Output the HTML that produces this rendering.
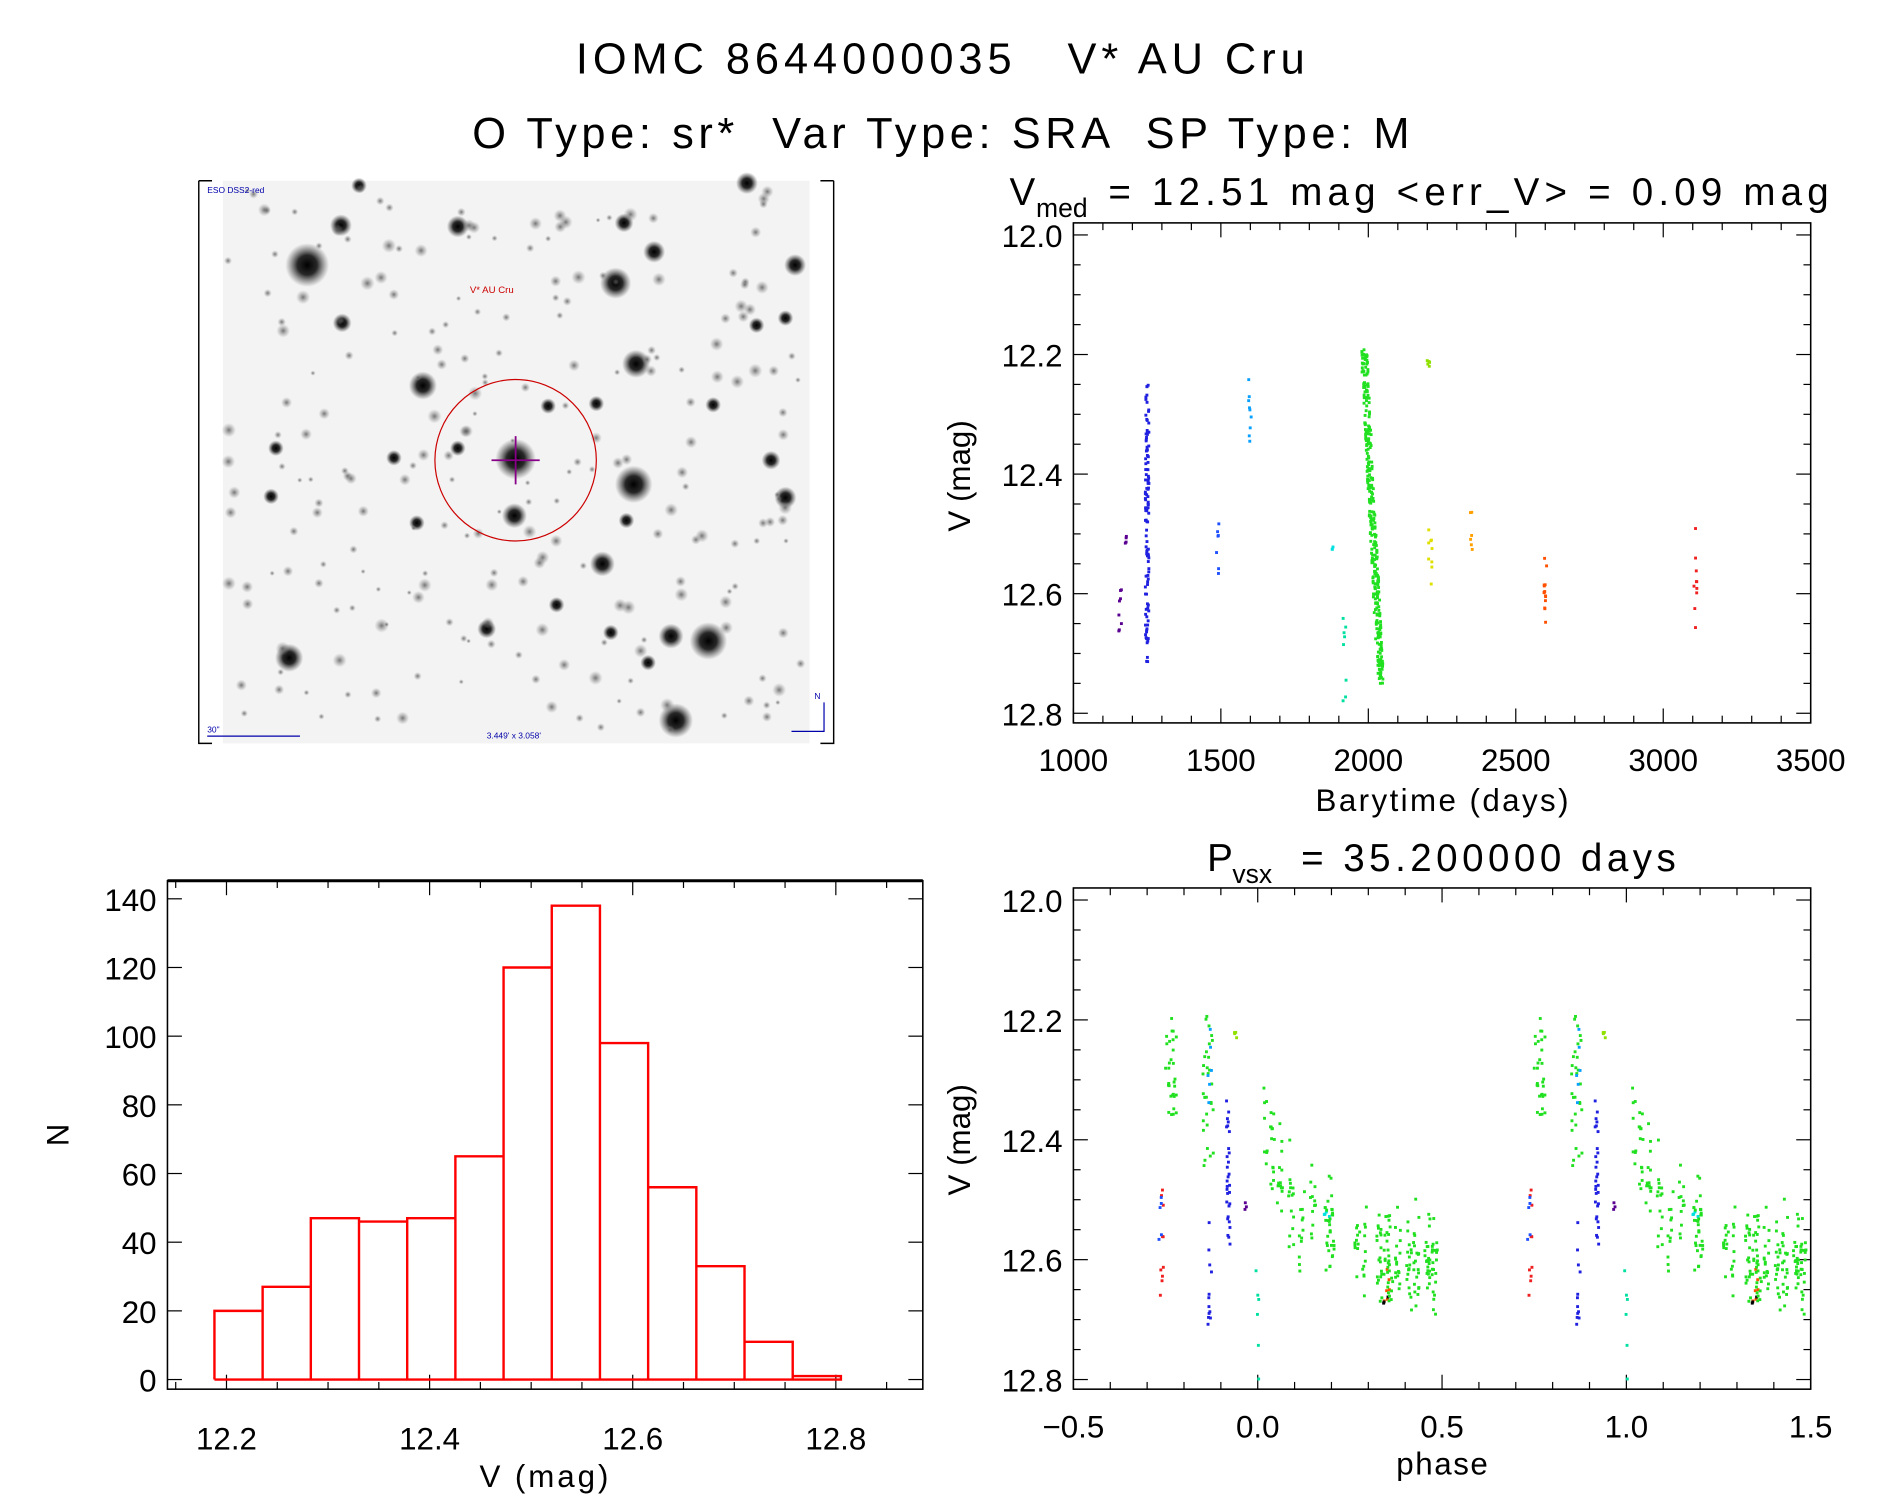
<!DOCTYPE html>
<html><head><meta charset="utf-8"><style>
html,body{margin:0;padding:0;background:#fff}
svg{display:block}
text{font-family:"Liberation Sans",sans-serif;fill:#000}
</style></head><body>
<svg id="s" width="1889" height="1494" viewBox="0 0 1568 1240" preserveAspectRatio="none" xmlns="http://www.w3.org/2000/svg">
<defs>
<radialGradient id="st"><stop offset="0" stop-color="#000" stop-opacity="1"/><stop offset="0.45" stop-color="#111" stop-opacity="0.9"/><stop offset="1" stop-color="#444" stop-opacity="0"/></radialGradient>
<radialGradient id="sf"><stop offset="0" stop-color="#555" stop-opacity="0.8"/><stop offset="1" stop-color="#888" stop-opacity="0"/></radialGradient>
</defs>
<text x="478" y="61" font-size="36" textLength="605" lengthAdjust="spacing" xml:space="preserve">IOMC 8644000035   V* AU Cru</text>
<text x="392" y="123" font-size="36" textLength="778" lengthAdjust="spacing" xml:space="preserve">O Type: sr*  Var Type: SRA  SP Type: M</text>
<rect x="185" y="150" width="487" height="467" fill="#f3f3f3"/>
<g id="stars"></g>
<path d="M165,150 H176 M165,150 V617 H176 M692,150 H681 M692,150 V617 H681" stroke="#000" stroke-width="1.2" fill="none"/>
<circle cx="428" cy="382" r="67" fill="none" stroke="#c00" stroke-width="1"/>
<path d="M408,382 H448 M428,362 V402" stroke="#808" stroke-width="1.5"/>
<text x="390" y="243" font-size="8" style="fill:#c00">V* AU Cru</text>
<text x="172" y="160" font-size="7" style="fill:#00a">ESO DSS2-red</text>
<text x="172" y="608" font-size="7" style="fill:#00a">30"</text>
<path d="M172,611 H249" stroke="#00a"/>
<text x="404" y="613" font-size="7" style="fill:#00a">3.449' x 3.058'</text>
<path d="M684,583 V607 H657" stroke="#00a" fill="none"/>
<text x="676" y="580" font-size="7" style="fill:#00a">N</text>
<g id="g"></g>
</svg>
<script>
var G=document.getElementById('g'),ST=document.getElementById('stars');
var NS='http://www.w3.org/2000/svg';
function el(t,a,p,txt){var e=document.createElementNS(NS,t);for(var k in a)e.setAttribute(k,a[k]);if(txt!=null)e.textContent=txt;(p||G).appendChild(e);return e;}
var seed=12345;function R(){seed=(seed*16807)%2147483647;return (seed-1)/2147483646;}
function N(){return (R()+R()+R()-1.5)/0.866;}
var big=[[255,220,14],[511,235,10],[528,302,9],[351,320,9],[428,381,13],[526,402,12],[240,546,9],[588,532,12],[561,598,11],[500,468,8],[283,187,7],[380,188,7],[518,185,6],[543,209,7],[660,220,7],[427,428,8],[557,528,8],[652,413,7],[284,268,6],[229,372,5],[640,382,6],[404,522,6],[346,434,5],[628,270,5],[538,550,5],[520,432,5],[298,154,5],[620,152,7],[225,412,5],[495,335,5],[380,372,5],[327,380,5],[462,502,5],[455,337,5],[652,264,5],[592,336,5],[507,525,5]];
big.forEach(function(s){el('circle',{cx:s[0],cy:s[1],r:s[2]*1.3,fill:'url(#st)'},ST);});
for(var i=0;i<230;i++){var x=188+R()*482,y=153+R()*462;el('circle',{cx:x,cy:y,r:2+R()*4,fill:'url(#sf)'},ST);}
function frame(x0,y0,x1,y1){el('rect',{x:x0,y:y0,width:x1-x0,height:y1-y0,fill:'none',stroke:'#000','stroke-width':1.3});}
var A={x0:891,x1:1503,y0:185,y1:600};
frame(A.x0,A.y0,A.x1,A.y1);
function tx(d){return 891+(d-1000)*612/2500;}
function ty(v){return 195+(v-12.0)*496.25;}
for(var d=1000;d<=3500;d+=100){var X=tx(d),L=d%500==0?12:6;el('line',{x1:X,y1:A.y1,x2:X,y2:A.y1-L,stroke:'#000'});el('line',{x1:X,y1:A.y0,x2:X,y2:A.y0+L,stroke:'#000'});if(d%500==0)el('text',{x:X,y:640,'font-size':26,'text-anchor':'middle'},null,d);}
function yt(f,x0,x1,lx){for(var v=12.0;v<=12.8001;v+=0.05){var Y=f(v),maj=Math.abs(Math.round(v*5)-v*5)<1e-6,L=maj?12:6;el('line',{x1:x0,y1:Y,x2:x0+L,y2:Y,stroke:'#000'});el('line',{x1:x1,y1:Y,x2:x1-L,y2:Y,stroke:'#000'});if(maj)el('text',{x:lx,y:Y+10,'font-size':26,'text-anchor':'end'},null,v.toFixed(1));}}
yt(ty,A.x0,A.x1,882);
el('text',{x:1092,y:673,'font-size':26,textLength:210,lengthAdjust:'spacing'},null,'Barytime (days)');
el('text',{x:805,y:395,'font-size':26,'text-anchor':'middle',transform:'rotate(-90 805 395)'},null,'V (mag)');
el('text',{x:838,y:170,'font-size':32},null,'V');el('text',{x:860,y:180,'font-size':22},null,'med');
el('text',{x:920,y:170,'font-size':32,textLength:598,lengthAdjust:'spacing'},null,'= 12.51 mag <err_V> = 0.09 mag');
function dots(cx,cw,v0,v1,n,col){for(var i=0;i<n;i++){var v=v0+R()*(v1-v0);el('rect',{x:cx+(R()-0.5)*cw-1.2,y:ty(v)-1.2,width:2.4,height:2.4,fill:col});}}
dots(tx(1160),3,12.58,12.68,8,'#5a0090');dots(tx(1175),3,12.5,12.52,4,'#5a0090');
dots(tx(1250),3,12.25,12.72,110,'#2020e0');dots(tx(1490),3,12.48,12.58,7,'#1e50ff');
dots(tx(1600),3,12.21,12.35,9,'#0aa0ff');dots(tx(1880),3,12.52,12.53,3,'#00e0e0');
dots(tx(1920),3,12.62,12.79,8,'#00e0a0');
for(var i=0;i<320;i++){var v=12.19+R()*0.56;el('rect',{x:tx(1985)+(v-12.19)*25+(R()-0.5)*5-1.2,y:ty(v)-1.2,width:2.4,height:2.4,fill:'#20e020'});}
dots(tx(2205),3,12.21,12.22,5,'#90e000');dots(tx(2210),3,12.49,12.59,9,'#e0e000');
dots(tx(2350),3,12.46,12.53,6,'#ffa000');dots(tx(2600),3,12.54,12.66,14,'#ff5000');
dots(tx(3110),3,12.49,12.66,10,'#f02020');
var H={x0:139,x1:766,y0:731,y1:1153};
frame(H.x0,H.y0,H.x1,H.y1);el('line',{x1:139,y1:731,x2:766,y2:731,stroke:'#000','stroke-width':2.5});
function hy(n){return 1145-n*399/140;}function hx(v){return 188+(v-12.2)*843;}
for(var n=0;n<=140;n+=20){var Y=hy(n);el('line',{x1:139,y1:Y,x2:151,y2:Y,stroke:'#000'});el('line',{x1:766,y1:Y,x2:754,y2:Y,stroke:'#000'});el('text',{x:130,y:Y+10,'font-size':26,'text-anchor':'end'},null,n);}
for(var v=12.15;v<=12.8501;v+=0.05){var X=hx(v),maj=Math.abs(Math.round(v*5)-v*5)<1e-6,L=maj?12:6;el('line',{x1:X,y1:1153,x2:X,y2:1153-L,stroke:'#000'});el('line',{x1:X,y1:731,x2:X,y2:731+L,stroke:'#000'});if(maj)el('text',{x:X,y:1203,'font-size':26,'text-anchor':'middle'},null,v.toFixed(1));}
var hs=[20,27,47,46,47,65,120,138,98,56,33,11,1],d='M178,1145';
hs.forEach(function(h,i){var x=178+i*40;d+=' L'+x+','+hy(h)+' L'+(x+40)+','+hy(h);});d+=' L698,1145 L178,1145';
for(var i=1;i<13;i++)d+=' M'+(178+i*40)+',1145 V'+hy(Math.max(hs[i],hs[i-1]));
el('path',{d:d,fill:'none',stroke:'#f00','stroke-width':2});
el('text',{x:398,y:1234,'font-size':26,textLength:107,lengthAdjust:'spacing'},null,'V (mag)');
el('text',{x:57,y:942,'font-size':26,'text-anchor':'middle',transform:'rotate(-90 57 942)'},null,'N');
var P={x0:891,x1:1503,y0:737,y1:1153};
frame(P.x0,P.y0,P.x1,P.y1);
function py(v){return 747+(v-12.0)*497.5;}function px(p){return 891+(p+0.5)*306;}
for(var p=-0.5;p<=1.5001;p+=0.1){var X=px(p),maj=Math.abs(Math.round(p*2)-p*2)<1e-6,L=maj?12:6;el('line',{x1:X,y1:1153,x2:X,y2:1153-L,stroke:'#000'});el('line',{x1:X,y1:737,x2:X,y2:737+L,stroke:'#000'});if(maj)el('text',{x:X,y:1193,'font-size':26,'text-anchor':'middle'},null,(p<-1e-9?'\u2212':'')+Math.abs(Math.round(p*10)/10).toFixed(1));}
yt(py,P.x0,P.x1,882);
el('text',{x:1159,y:1224,'font-size':26,textLength:76,lengthAdjust:'spacing'},null,'phase');
el('text',{x:805,y:946,'font-size':26,'text-anchor':'middle',transform:'rotate(-90 805 946)'},null,'V (mag)');
el('text',{x:1002,y:723,'font-size':32},null,'P');el('text',{x:1023,y:733,'font-size':22},null,'vsx');
el('text',{x:1080,y:723,'font-size':32,textLength:311,lengthAdjust:'spacing'},null,'= 35.200000 days');
var pts=[];
function pc(p0,p1,v0,v1,n,col){for(var i=0;i<n;i++)pts.push([p0+R()*(p1-p0),v0+R()*(v1-v0),col]);}
pc(-0.265,-0.255,12.48,12.66,10,'#f02020');pc(-0.27,-0.26,12.48,12.58,5,'#1e50ff');
pc(-0.25,-0.22,12.19,12.36,30,'#20e020');pc(-0.15,-0.12,12.19,12.45,30,'#20e020');
pc(-0.135,-0.125,12.2,12.38,6,'#0aa0ff');pc(-0.135,-0.125,12.53,12.72,12,'#2020e0');
pc(-0.085,-0.075,12.33,12.58,30,'#2020e0');pc(-0.065,-0.055,12.22,12.23,4,'#90e000');
pc(-0.035,-0.03,12.5,12.52,3,'#5a0090');pc(-0.005,0.005,12.6,12.8,6,'#00e0a0');
pc(0.18,0.2,12.52,12.54,4,'#00e0e0');pc(0.34,0.36,12.6,12.67,6,'#ff5000');pc(0.34,0.36,12.64,12.69,3,'#000');
var cols=[0.02,0.04,0.06,0.09,0.12,0.15,0.19,0.2,0.27,0.29,0.33,0.35,0.36,0.38,0.41,0.43,0.46,0.48];
for(var i=0;i<280;i++){var c=cols[Math.floor(R()*cols.length)],p=c+(R()-0.5)*0.015,m=p<0.1?12.36+p*1.6:(p<0.3?12.52+(p-0.1)*0.35:12.6);pts.push([p,m+N()*0.07,'#20e020']);}
pts.forEach(function(q){[0,1].forEach(function(o){var X=px(q[0]+o);if(X<891||X>1503)return;el('rect',{x:X-1.2,y:py(q[1])-1.2,width:2.4,height:2.4,fill:q[2]});});});
</script>
</body></html>
